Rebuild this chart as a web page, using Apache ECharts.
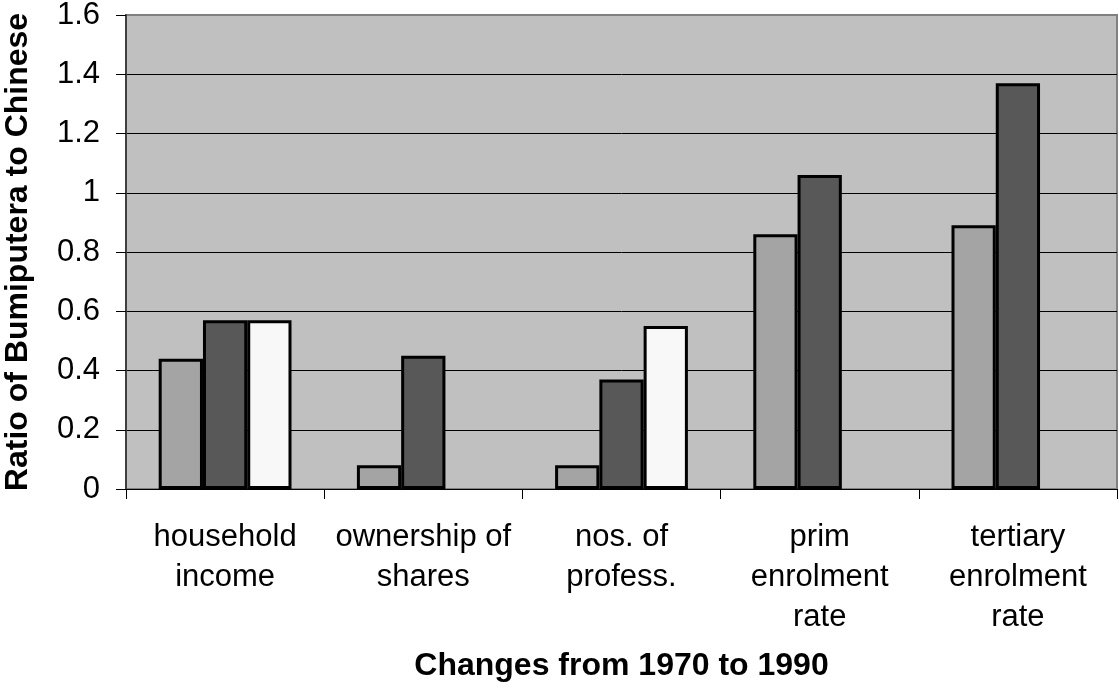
<!DOCTYPE html>
<html>
<head>
<meta charset="utf-8">
<script src="https://cdn.jsdelivr.net/npm/echarts@6/dist/echarts.min.js"></script>
<style>
html,body{margin:0;padding:0;background:#fff;}
#main{width:1119px;height:692px;}
</style>
</head>
<body>
<div id="main"></div>
<script>
// categories (x axis)
var categories = ['household\nincome', 'ownership of\nshares', 'nos. of\nprofess.', 'prim\nenrolment\nrate', 'tertiary\nenrolment\nrate'];
// three bars per group
var seriesA = [0.44, 0.08, 0.08, 0.86, 0.89];
var seriesB = [0.57, 0.45, 0.37, 1.06, 1.37];
var seriesC = [0.57, null, 0.55, null, null];
var yTicks = [0, 0.2, 0.4, 0.6, 0.8, 1, 1.2, 1.4, 1.6];

var font = 'Liberation Sans, Arial, sans-serif';

function barSeries(name, data, color){
    return {
        name: name,
        type: 'bar',
        data: data,
        barGap: '0%',
        barCategoryGap: '33%',
        itemStyle: {
            color: color,
            borderColor: '#000',
            borderWidth: 3
        }
    };
}

var myChart = echarts.init(document.getElementById('main'));
var option = {
    animation: false,
    backgroundColor: '#fff',
    grid: {
        left: 126,
        right: 2,
        top: 15,
        bottom: 203,
        outerBoundsMode: 'none',
        containLabel: false,
        show: true,
        backgroundColor: '#C0C0C0',
        borderColor: '#808080',
        borderWidth: 2
    },
    xAxis: {
        type: 'category',
        data: categories,
        name: 'Changes from 1970 to 1990',
        nameLocation: 'middle',
        nameGap: 161,
        nameTextStyle: {fontFamily: font, fontSize: 32, fontWeight: 'bold', color: '#000'},
        axisLine: {lineStyle: {color: '#000', width: 1}},
        axisTick: {show: true, length: 10, lineStyle: {color: '#000'}},
        axisLabel: {
            margin: 28,
            fontFamily: font,
            fontSize: 31,
            lineHeight: 40,
            color: '#000',
            interval: 0
        }
    },
    yAxis: {
        type: 'value',
        min: yTicks[0],
        max: yTicks[yTicks.length - 1],
        interval: 0.2,
        name: 'Ratio of Bumiputera to Chinese',
        nameLocation: 'middle',
        nameGap: 92,
        nameTextStyle: {fontFamily: font, fontSize: 32, fontWeight: 'bold', color: '#000'},
        axisLine: {show: true, lineStyle: {color: '#404040', width: 2}},
        axisTick: {show: true, length: 10, lineStyle: {color: '#000'}},
        axisLabel: {
            margin: 26,
            fontFamily: font,
            fontSize: 31,
            color: '#000',
            formatter: function(v){ return String(Math.round(v * 10) / 10); }
        },
        splitLine: {show: true, showMaxLine: false, lineStyle: {color: '#000', width: 1}}
    },
    series: [
        barSeries('1970', seriesA, '#A4A4A4'),
        barSeries('1980', seriesB, '#585858'),
        barSeries('1990', seriesC, '#F8F8F8')
    ]
};
myChart.setOption(option);
</script>
</body>
</html>
